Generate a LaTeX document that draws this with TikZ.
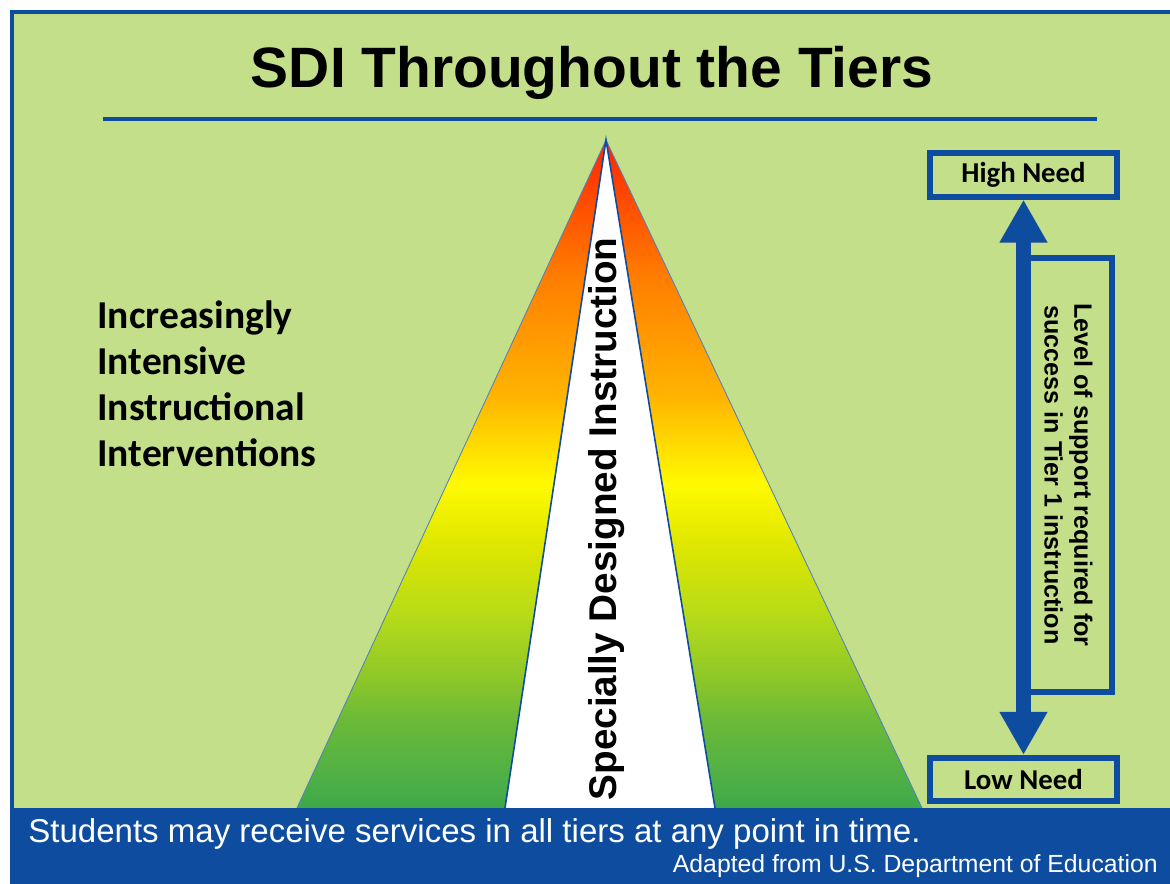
\documentclass[tikz,border=0pt]{standalone}
\usepackage{fontspec}
\setmainfont{Liberation Sans}
\newfontfamily\calibfont{Carlito}
\usepackage{tikz}
\usetikzlibrary{arrows.meta}

\definecolor{pagegreen}{HTML}{C4DF89}
\definecolor{edublue}{HTML}{0D4C9E}
\definecolor{tierA}{HTML}{3FA748}
\definecolor{tierB}{HTML}{48AD48}
\definecolor{tierC}{HTML}{6CBA38}
\definecolor{tierD}{HTML}{90C828}
\definecolor{tierE}{HTML}{B8DC18}
\definecolor{tierF}{HTML}{DDE600}
\definecolor{tierG}{HTML}{FFFA00}
\definecolor{tierH}{HTML}{FFB400}
\definecolor{tierI}{HTML}{FF8000}
\definecolor{tierJ}{HTML}{FF2A00}

\pgfdeclareverticalshading{tiers}{100bp}{color(0bp)=(tierA); color(25bp)=(tierA);
  color(26.3bp)=(tierB); color(31.7bp)=(tierC); color(35bp)=(tierD);
  color(39.7bp)=(tierE); color(44.5bp)=(tierF); color(49.3bp)=(tierG);
  color(55.8bp)=(tierH); color(64.4bp)=(tierI); color(74.3bp)=(tierJ);
  color(75bp)=(tierJ); color(100bp)=(tierJ)}

\begin{document}
\begin{tikzpicture}[%
		x=0.02cm,y=-0.02cm,
		frame/.style={draw=edublue,line width=2.3pt},%
		edge/.style={draw=edublue!70,line width=.5pt},%
		wedge/.style={draw=edublue,line width=.9pt,fill=white},%
		needbox/.style={%
			draw=edublue,%
			line width=3.4pt,%
			inner sep=0pt,%
			minimum width=106.4pt,%
			minimum height=24.6pt,%
			font=\calibfont\bfseries\fontsize{16.4}{19}\selectfont},%
		levelbox/.style={%
			draw=edublue,%
			line width=3.4pt,%
			inner sep=0pt,%
			minimum width=247pt,%
			minimum height=49.5pt,%
			align=center,%
			font=\bfseries\fontsize{14.3}{17}\selectfont},%
		levelarrow/.style={%
			draw=edublue,%
			line width=8.5pt,%
			{Triangle[length=24.5pt,width=25.6pt]}-{Triangle[length=24.5pt,width=25.6pt]}}
		]

		\useasboundingbox (0,0) rectangle (1170,884);
		% background and frame
		\fill[white] (0,0) rectangle (1170,884);
		\fill[pagegreen] (12,12) rectangle (1180,808);
		\draw[frame] (12,12) rectangle (1180,900);
		% title
		\node[anchor=base,font=\bfseries\fontsize{32.4}{38}\selectfont] (title) at (592,88) {SDI Throughout the Tiers};
		\draw[edublue,line width=2.8pt] (103,119) -- (1097,119);
		% tiers triangle
		\coordinate (apex) at (606,140);
		\coordinate (baseL) at (297,808);
		\coordinate (baseR) at (922,808);
		\coordinate (wedgeL) at (505,808);
		\coordinate (wedgeR) at (715,808);
		\shade[shading=tiers] (apex) -- (baseL) -- (baseR) -- cycle;
		\draw[edge] (baseL) -- (apex) -- (baseR);
		\filldraw[wedge] (wedgeL) -- (apex) -- (wedgeR);
		\node[rotate=90,font=\bfseries\fontsize{22}{26}\selectfont] (sdi) at (607,519) {Specially Designed Instruction};
		% left label
		\node[anchor=north west,inner sep=0pt,align=left,font=\calibfont\bfseries\fontsize{22.5}{26.2}\selectfont] (intensive) at (97,300) {Increasingly\\Intensive\\Instructional\\Interventions};
		% need scale
		\node[needbox] (high) at (1023.5,175) {High Need};
		\node[needbox] (low) at (1023.5,779.5) {Low Need};
		\node[levelbox,rotate=-90] (level) at (1068.5,475) {Level of support required for\\success in Tier 1 instruction};
		\draw[levelarrow] (high.south) -- (low.north);
		% bottom band
		\fill[edublue] (10,808) rectangle (1180,900);
		\node[anchor=base west,text=white,inner sep=0pt,font=\fontsize{18.8}{22}\selectfont] (note) at (28,843) {Students may receive services in all tiers at any point in time.};
		\node[anchor=base east,text=white,inner sep=0pt,font=\fontsize{14.1}{17}\selectfont] (source) at (1158,872) {Adapted from U.S. Department of Education};
	\end{tikzpicture}
\end{document}
